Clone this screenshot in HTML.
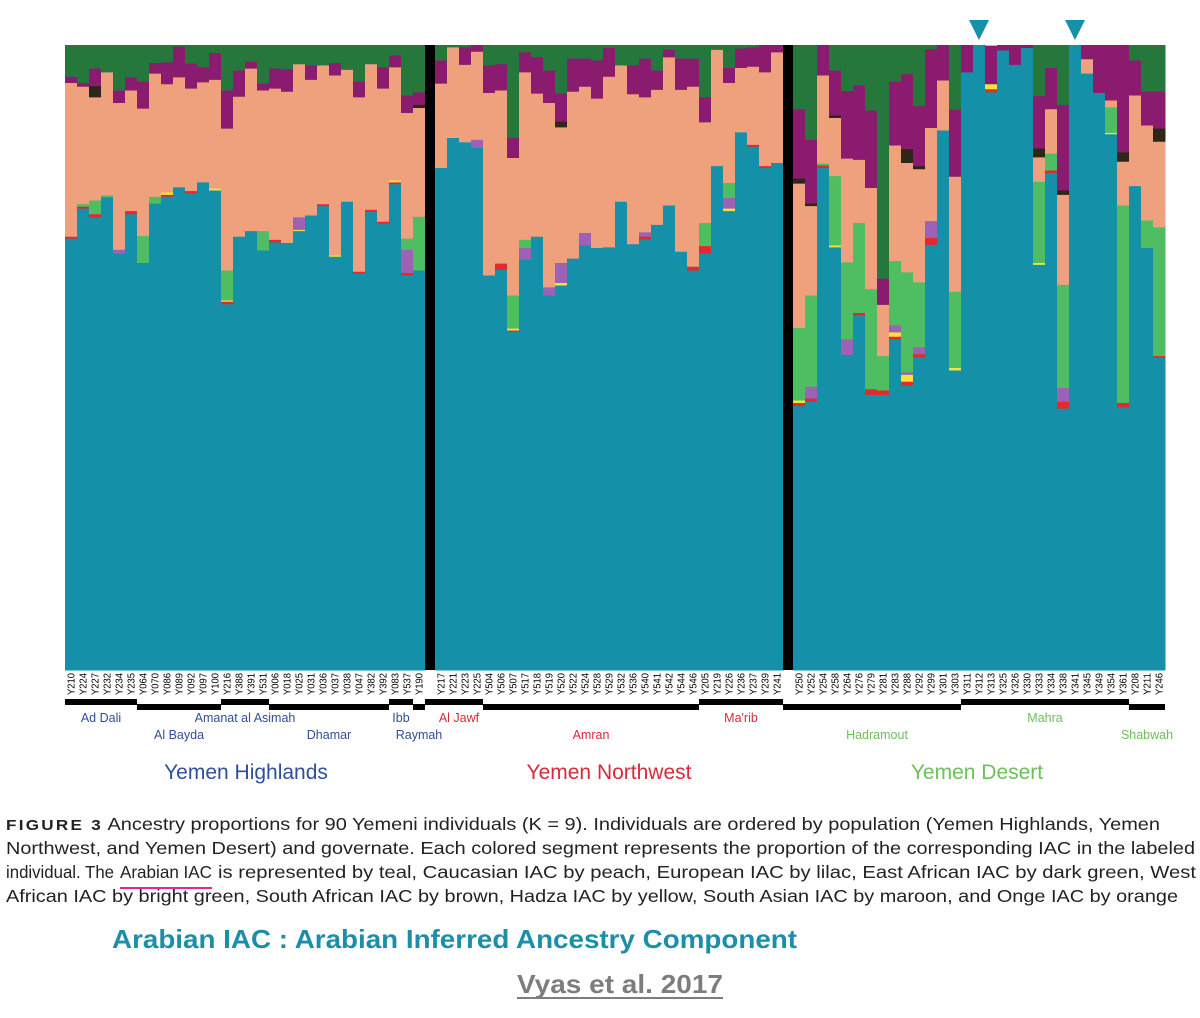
<!DOCTYPE html>
<html><head><meta charset="utf-8"><style>
html,body{margin:0;padding:0;background:#fff;width:1200px;height:1018px;overflow:hidden}
svg{display:block}
</style></head><body>
<svg id="chart" width="1200" height="1018" viewBox="0 0 1200 1018" xmlns="http://www.w3.org/2000/svg" font-family="'Liberation Sans', sans-serif">
<g id="bars"></g>
<g id="seps"></g>
<g id="labels"></g>
<g id="groups"></g>
<g font-size="21">
<text x="246" y="779" text-anchor="middle" fill="#2f4f9a">Yemen Highlands</text>
<text x="609" y="779" text-anchor="middle" fill="#d72a3a">Yemen Northwest</text>
<text x="977" y="779" text-anchor="middle" fill="#6cc05a">Yemen Desert</text>
</g>
<g font-size="17.5" fill="#222">
<text x="6" y="830" textLength="1154" lengthAdjust="spacingAndGlyphs"><tspan font-weight="bold" letter-spacing="2" font-size="15">FIGURE 3</tspan>   Ancestry proportions for 90 Yemeni individuals (K = 9). Individuals are ordered by population (Yemen Highlands, Yemen</text>
<text x="6" y="854" textLength="1189" lengthAdjust="spacingAndGlyphs">Northwest, and Yemen Desert) and governate. Each colored segment represents the proportion of the corresponding IAC in the labeled</text>
<text x="6" y="878" textLength="108" lengthAdjust="spacingAndGlyphs">individual. The</text>
<text x="120" y="878" textLength="92" lengthAdjust="spacingAndGlyphs">Arabian IAC</text>
<text x="218" y="878" textLength="978" lengthAdjust="spacingAndGlyphs">is represented by teal, Caucasian IAC by peach, European IAC by lilac, East African IAC by dark green, West</text>
<text x="6" y="902" textLength="1172" lengthAdjust="spacingAndGlyphs">African IAC by bright green, South African IAC by brown, Hadza IAC by yellow, South Asian IAC by maroon, and Onge IAC by orange</text>
<rect x="120" y="887" width="92" height="2" fill="#e8248f"/>
</g>
<text x="112" y="948" font-size="26" font-weight="bold" fill="#1b8fa8" textLength="685" lengthAdjust="spacingAndGlyphs">Arabian IAC : Arabian Inferred Ancestry Component</text>
<text x="517" y="993" font-size="26" font-weight="bold" fill="#7d7d7d" textLength="206" lengthAdjust="spacingAndGlyphs">Vyas et al. 2017</text>
<rect x="517" y="997" width="206" height="2" fill="#7d7d7d"/>
</svg>
<script>
const samples = ["Y210","Y224","Y227","Y232","Y234","Y235","Y064","Y070","Y086","Y089","Y092","Y097","Y100","Y216","Y388","Y391","Y531","Y006","Y018","Y025","Y031","Y036","Y037","Y038","Y047","Y382","Y392","Y083","Y537","Y190",
"Y217","Y221","Y223","Y225","Y504","Y506","Y507","Y517","Y518","Y519","Y520","Y522","Y524","Y528","Y529","Y532","Y536","Y540","Y541","Y542","Y544","Y546","Y205","Y219","Y226","Y236","Y237","Y239","Y241",
"Y250","Y252","Y254","Y258","Y264","Y276","Y279","Y281","Y283","Y288","Y292","Y299","Y301","Y303","Y311","Y312","Y313","Y325","Y326","Y330","Y333","Y334","Y338","Y341","Y345","Y349","Y354","Y361","Y208","Y211","Y246"];
const panelSizes = [30,29,31];
const arabian = [69.1,73.9,72.5,75.7,66.7,73.0,65.2,74.7,75.8,77.3,76.4,78.1,76.8,58.6,69.4,70.3,67.2,68.5,68.4,70.3,72.8,74.3,66.2,75.0,63.5,73.4,71.5,77.8,63.2,64.0,
80.4,85.2,84.5,83.6,63.2,64.1,54.2,65.7,69.4,60.0,61.6,65.9,68.0,67.6,67.7,75.0,68.2,69.0,71.3,74.4,67.0,64.0,66.7,80.7,73.5,86.1,83.8,80.4,81.2,
42.3,43.0,80.4,67.7,50.5,56.8,44.1,44.1,53.0,45.6,50.1,68.1,86.4,48.0,95.7,100,92.5,99.2,96.9,99.6,64.9,79.6,41.9,100,95.5,92.4,85.8,42.1,77.5,67.6,50.0];
const onge = [0.3,0.3,0.5,0,0,0.5,0,0,0.3,0,0.3,0,0,0.4,0,0,0,0.4,0,0,0,0.3,0,0,0.3,0.3,0.3,0.3,0.4,0,
0,0,0,0,0,1.0,0.2,0,0,0,0,0,0,0,0,0,0,0.4,0,0,0,0.6,1.2,0,0,0,0.3,0.3,0,
0.5,0.5,0.4,0,0,0.4,0.9,0.7,0.4,0.6,0.5,1.1,0,0,0,0,0.5,0,0,0,0,0.4,1.1,0,0,0,0,0.7,0,0,0.3];
const hadza = [0,0,0,0,0,0,0,0,0.4,0,0,0,0.3,0.2,0,0,0,0,0,0.2,0,0,0.2,0,0,0,0,0.3,0,0,
0,0,0,0,0,0,0.3,0,0,0,0.4,0,0,0,0,0,0,0,0,0,0,0,0,0,0.4,0,0,0,0,
0.4,0,0,0.3,0,0,0,0,0.7,1.1,0,0,0,0.4,0,0,0.8,0,0,0,0.3,0,0,0,0,0,0.2,0,0,0,0];
const european = [0,0,0,0,0.6,0,0,0,0,0,0,0,0,0,0,0,0,0,0,2.0,0,0,0,0,0,0,0,0,3.7,0,
0,0,0,1.3,0,0,0,1.9,0,1.3,3.2,0,2.0,0,0,0,0,0.7,0,0,0,0,0,0,1.7,0,0,0,0,
0,1.9,0,0,2.5,0,0,0,1.1,0.4,1.1,2.7,0,0,0,0,0,0,0,0,0,0,2.2,0,0,0,0,0,0,0,0];
const westAfrican = [0,0.4,2.2,0.3,0,0,4.3,1.1,0,0,0,0,0,4.8,0,0,3.1,0,0,0,0,0,0,0,0,0,0,0,1.8,8.6,
0,0,0,0,0,0,5.3,1.3,0,0,0,0,0,0,0,0,0,0,0,0,0,0,3.7,0,2.4,0,0,0,0,
11.6,14.6,0.3,11.1,12.3,14.4,16.0,5.5,10.3,16.0,10.4,0,0,12.2,0,0,0,0,0,0,13.0,2.7,16.5,0,0,0,4.1,31.6,0,4.4,20.6];
const caucasian = [24.6,18.8,16.5,19.7,23.5,19.3,20.4,19.7,17.3,17.6,16.4,16.0,17.4,22.7,22.4,26.0,22.5,24.2,24.2,24.5,21.7,22.2,28.8,21.1,27.9,23.3,21.3,18.1,20.1,17.4,
13.5,14.5,12.4,14.1,29.2,27.7,22.0,26.8,22.9,29.5,21.7,26.7,23.4,23.9,27.3,21.8,24.0,21.6,21.6,23.7,25.9,28.8,16.1,18.6,16.0,10.3,12.5,15.0,17.7,
23.1,14.3,14.1,9.3,16.6,10.1,16.2,8.2,18.5,17.5,18.1,14.9,8.0,18.4,0,0,0,0,0,0,3.9,7.1,14.4,0,2.3,0,1.1,7.0,14.5,15.2,13.7];
const southAfrican = [0,0,1.8,0,0,0,0,0,0,0,0,0,0,0,0,0,0,0,0,0,0,0,0,0,0,0,0,0,0,0.5,
0,0,0,0,0,0,0,0,0,0,0.9,0,0,0,0,0,0,0,0,0,0,0,0,0,0,0,0,0,0,
0.8,0.4,0,0.4,0,0,0,0,0,2.2,0.5,0,0,0,0,0,0,0,0,0,1.4,0,0.7,0,0,0,0,1.5,0,0,2.1];
const southAsian = [1.0,0.6,2.8,0,2.0,2.1,4.3,1.7,3.5,4.9,4.0,2.4,4.3,6.1,4.2,1.1,1.1,3.2,3.6,0,2.3,0,2.0,0,2.5,0,3.4,1.9,2.8,2.0,
3.7,0,2.8,1.0,4.4,4.2,3.2,3.2,5.8,5.2,4.5,5.3,4.5,6.1,4.6,0,4.6,6.2,3.1,1.2,5.0,4.5,4.0,0,2.4,3.1,3.1,4.3,1.1,
11.1,10.2,4.8,7.2,10.8,11.9,12.4,4.2,10.2,12.0,9.6,12.6,5.6,10.7,4.3,0,6.1,0.8,3.1,0.4,8.4,6.6,13.7,0,2.2,7.6,8.8,17.1,5.6,5.4,5.9];
const eastAfrican = [5.1,6.0,3.6,4.3,7.2,5.1,5.9,2.8,2.7,0.2,2.9,3.5,1.2,7.2,4.0,2.6,6.1,3.7,3.8,3.0,3.2,3.2,2.8,3.9,5.8,3.0,3.5,1.6,8.0,7.5,
2.4,0.3,0.3,0,3.2,3.0,14.8,1.1,1.9,4.0,7.7,2.1,2.1,2.4,0.4,3.2,3.2,2.1,4.0,0.7,2.1,2.1,8.3,0.7,3.6,0.5,0.3,0,0,
10.2,14.9,0,4.0,7.4,6.3,10.4,37.3,5.9,4.5,9.6,0.6,0,10.4,0,0,0,0,0,0,8.0,3.6,9.5,0,0,0,0,0,2.4,7.4,7.4];
const series = [arabian,onge,hadza,european,westAfrican,caucasian,southAfrican,southAsian,eastAfrican];
const seriesNames = ["arabian","onge","hadza","european","west-african","caucasian","south-african","south-asian","east-african"];
const colors = ["#1490a8","#e3292b","#f4e33c","#9b62b5","#4fbe63","#efa07c","#2e2618","#8a1b6f","#25773b"];
const groupNames = ["Ad Dali","Al Bayda","Amanat al Asimah","Dhamar","Ibb","Raymah","Al Jawf","Amran","Ma'rib","Hadramout","Mahra","Shabwah"];
const groupSizes = [6,7,4,10,2,1,4,18,7,14,14,3];
const groupColors = ["#2f4f9a","#2f4f9a","#2f4f9a","#2f4f9a","#2f4f9a","#2f4f9a","#d72a3a","#d72a3a","#d72a3a","#6cc05a","#6cc05a","#6cc05a"];
const markedSamples = ["Y312","Y341"];

const NS="http://www.w3.org/2000/svg";
const panelStart=[65,435,793], barW=12, y0=670, yTop=45;
const yScale = v => (y0-yTop)*v/100;
function barX(i){let p=0,k=i;while(k>=panelSizes[p]){k-=panelSizes[p];p++;}return panelStart[p]+k*barW;}
const gb=document.getElementById('bars');
for(let i=0;i<samples.length;i++){
  let acc=0;const x=barX(i);
  for(let s=0;s<series.length;s++){
    const v=series[s][i]; if(!v) continue;
    const h=yScale(v);
    const r=document.createElementNS(NS,'rect');
    
    
    const yy = s===series.length-1 ? yTop : y0-acc-h;
    const hh = s===series.length-1 ? (y0-acc-yTop) : h;
    r.setAttribute('x',x);r.setAttribute('y',Math.max(yTop,yy));r.setAttribute('width',barW+0.5);r.setAttribute('height',Math.max(0,hh)+0.5);
    r.setAttribute('fill',colors[s]);gb.appendChild(r);acc+=h;
  }
  const lab=document.createElementNS(NS,'text');
  
  
  lab.setAttribute('transform','translate('+(x+barW/2+3.5)+',695) rotate(-90)');
  lab.setAttribute('font-size','10');lab.setAttribute('textLength','22');lab.setAttribute('lengthAdjust','spacingAndGlyphs');
  lab.textContent=samples[i];document.getElementById('labels').appendChild(lab);
  if(markedSamples.includes(samples[i])){
    const t=document.createElementNS(NS,'polygon');
    
    
    const cx=x+barW/2;t.setAttribute('points',(cx-10)+',20 '+(cx+10)+',20 '+cx+',40');t.setAttribute('fill','#1490a8');
    gb.appendChild(t);
  }
}
const gs=document.getElementById('seps');
[[425,10],[783,10]].forEach((d,k)=>{const r=document.createElementNS(NS,'rect');


r.setAttribute('x',d[0]);r.setAttribute('y',45);r.setAttribute('width',d[1]);r.setAttribute('height',625);r.setAttribute('fill','#000');gs.appendChild(r);});
const gg=document.getElementById('groups');
let idx=0;
for(let g=0;g<groupNames.length;g++){
  const x1=barX(idx), x2=barX(idx+groupSizes[g]-1)+barW;
  const upper = [0,2,4,6,8,10].includes(g);
  const r=document.createElementNS(NS,'rect');
  
  
  let xa=x1,xb=x2; if(idx===30||idx===59){xa=x1-10;}
  r.setAttribute('x',xa);r.setAttribute('y',upper?699:704);r.setAttribute('width',xb-xa);r.setAttribute('height',6);r.setAttribute('fill','#000');gg.appendChild(r);
  const t=document.createElementNS(NS,'text');
  
  
  t.setAttribute('x',(x1+x2)/2);t.setAttribute('y',upper?722:739);t.setAttribute('text-anchor','middle');t.setAttribute('font-size','12.5');t.setAttribute('fill',groupColors[g]);
  t.textContent=groupNames[g];gg.appendChild(t);
  idx+=groupSizes[g];
}
</script>
</body></html>
